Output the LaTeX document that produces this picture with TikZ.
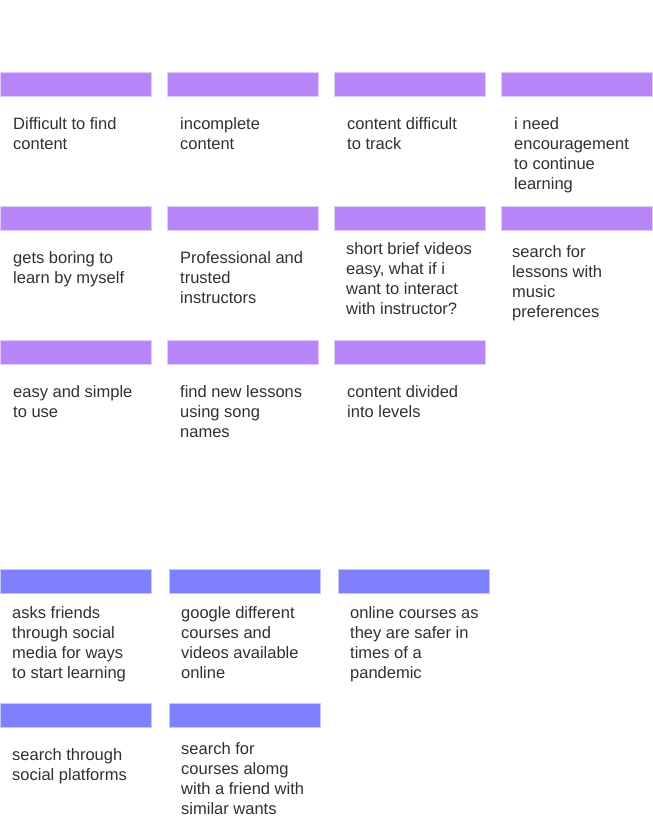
\documentclass[tikz,border=0pt]{standalone}
\usepackage{fontspec}
\setmainfont{Liberation Sans}
\definecolor{purplebar}{RGB}{185,134,250}
\definecolor{bluebar}{RGB}{128,128,255}
\definecolor{txt}{RGB}{48,48,48}
\tikzset{
  pbar/.style={rectangle, anchor=north west, inner sep=0pt, minimum width=151pt, minimum height=24pt, fill=purplebar, draw=purplebar!45, line width=0.6pt},
  bbar/.style={rectangle, anchor=north west, inner sep=0pt, minimum width=151pt, minimum height=24pt, fill=bluebar, draw=bluebar!45, line width=0.6pt},
  note/.style={anchor=north west, inner sep=0pt, align=left, text=txt, font=\fontsize{16.5}{20}\selectfont}
}
\newcommand{\fl}{\rule{0pt}{13pt}}
\begin{document}
\begin{tikzpicture}[x=1pt,y=-1pt]
\useasboundingbox (0,0) rectangle (653,820);
% row 1
\node[pbar] (b11) at (0,72) {};
\node[pbar] (b12) at (167,72) {};
\node[pbar] (b13) at (334,72) {};
\node[pbar] (b14) at (501,72) {};
\node[note] (t11) at (13,116) {\fl Difficult to find\\content};
\node[note] (t12) at (180,116) {\fl incomplete\\content};
\node[note] (t13) at (347,116) {\fl content difficult\\to track};
\node[note] (t14) at (514,116) {\fl i need\\encouragement\\to continue\\learning};
% row 2
\node[pbar] (b21) at (0,206) {};
\node[pbar] (b22) at (167,206) {};
\node[pbar] (b23) at (334,206) {};
\node[pbar] (b24) at (501,206) {};
\node[note] (t21) at (13,250) {\fl gets boring to\\learn by myself};
\node[note] (t22) at (180,250) {\fl Professional and\\trusted\\instructors};
\node[note] (t23) at (346,241) {\fl short brief videos\\easy, what if i\\want to interact\\with instructor?};
\node[note] (t24) at (512,244) {\fl search for\\lessons with\\music\\preferences};
% row 3
\node[pbar] (b31) at (0,340) {};
\node[pbar] (b32) at (167,340) {};
\node[pbar] (b33) at (334,340) {};
\node[note] (t31) at (13,384) {\fl easy and simple\\to use};
\node[note] (t32) at (180,384) {\fl find new lessons\\using song\\names};
\node[note] (t33) at (347,384) {\fl content divided\\into levels};
% row 4
\node[bbar] (b41) at (0,569) {};
\node[bbar] (b42) at (169,569) {};
\node[bbar] (b43) at (338,569) {};
\node[note] (t41) at (12,605) {\fl asks friends\\through social\\media for ways\\to start learning};
\node[note] (t42) at (181,605) {\fl google different\\courses and\\videos available\\online};
\node[note] (t43) at (350,605) {\fl online courses as\\they are safer in\\times of a\\pandemic};
% row 5
\node[bbar] (b51) at (0,703) {};
\node[bbar] (b52) at (169,703) {};
\node[note] (t51) at (12,747) {\fl search through\\social platforms};
\node[note] (t52) at (181,741) {\fl search for\\courses alomg\\with a friend with\\similar wants};
\end{tikzpicture}
\end{document}
